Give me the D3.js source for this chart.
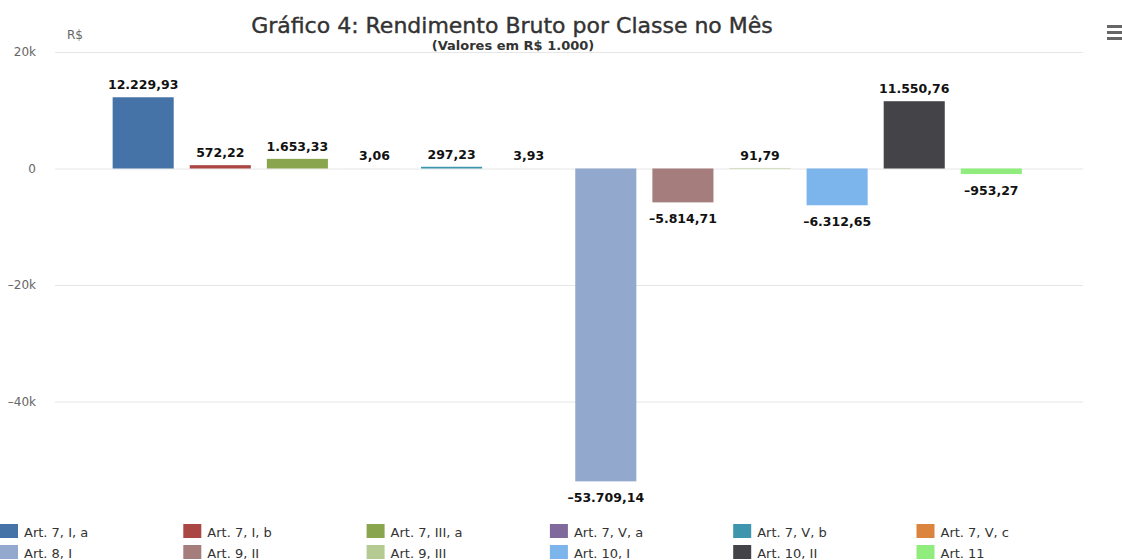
<!DOCTYPE html>
<html>
<head>
<meta charset="utf-8">
<script src="https://cdn.jsdelivr.net/npm/d3@7"></script>
<style>
  body { margin: 0; background: #fff; }
  svg { display: block; }
</style>
</head>
<body>
<div id="chart"></div>
<script>
// Data
var series = ["Art. 7, I, a", "Art. 7, I, b", "Art. 7, III, a", "Art. 7, V, a", "Art. 7, V, b", "Art. 7, V, c",
              "Art. 8, I", "Art. 9, II", "Art. 9, III", "Art. 10, I", "Art. 10, II", "Art. 11"];
var values = [12229.93, 572.22, 1653.33, 3.06, 297.23, 3.93, -53709.14, -5814.71, 91.79, -6312.65, 11550.76, -953.27];
var colors = ["#4572A7", "#AA4643", "#89A54E", "#80699B", "#3D96AE", "#DB843D",
              "#92A8CD", "#A47D7C", "#B5CA92", "#7cb5ec", "#434348", "#90ed7d"];
var yTicks = [20000, 0, -20000, -40000];

// Measurement
var w = 1122, h = 560;
var plot = { left: 55, right: 1083, top: 52, bottom: 518 };

var svg = d3.select("#chart").append("svg")
    .attr("width", w)
    .attr("height", h);

// Scales
var xScale = d3.scaleBand()
    .domain(series)
    .range([plot.left - 2.5, plot.right - 1])
    .paddingInner(0.208)
    .paddingOuter(0.78);

var yScale = d3.scaleLinear()
    .domain([-60000, 20000])
    .range([plot.bottom, plot.top]);

// Grid / y axis
var yAxis = d3.axisLeft(yScale)
    .tickValues(yTicks)
    .tickSizeInner(-(plot.right - plot.left))
    .tickSizeOuter(0)
    .tickPadding(19)
    .tickFormat(function(d) { return d < 0 ? "\u2013" + Math.abs(d / 1000) + "k" : (d === 0 ? "0" : (d / 1000) + "k"); });

var gy = svg.append("g")
    .attr("class", "y axis")
    .attr("transform", "translate(" + plot.left + ",0)")
    .call(yAxis);
gy.select(".domain").remove();
gy.selectAll(".tick line").attr("stroke", "#e6e6e6");
gy.selectAll(".tick text")
    .attr("fill", "#666")
    .attr("font-family", "DejaVu Sans")
    .attr("font-size", 12);

svg.append("text")
    .attr("x", 67).attr("y", 39)
    .attr("font-family", "DejaVu Sans")
    .attr("font-size", 12)
    .attr("fill", "#666")
    .text("R$");

// Bars
svg.selectAll(".bar")
    .data(values)
    .enter()
    .append("rect")
    .attr("class", "bar")
    .attr("x", function(d, i) { return xScale(series[i]); })
    .attr("width", xScale.bandwidth())
    .attr("y", function(d) { return yScale(Math.max(0, d)); })
    .attr("height", function(d) { return Math.abs(yScale(d) - yScale(0)); })
    .attr("fill", function(d, i) { return colors[i]; });

// Labels
var fmt = d3.formatLocale({ decimal: ",", thousands: ".", grouping: [3], currency: ["R$", ""], minus: "\u2013" }).format(",.2f");

svg.selectAll(".label")
    .data(values)
    .enter()
    .append("text")
    .attr("class", "label")
    .attr("x", function(d, i) { return xScale(series[i]) + xScale.bandwidth() / 2; })
    .attr("y", function(d) { return d >= 0 ? yScale(d) - 8 : yScale(d) + 21; })
    .attr("text-anchor", "middle")
    .attr("font-family", "DejaVu Sans")
    .attr("font-weight", "bold")
    .attr("font-size", 12.5)
    .attr("fill", "#111")
    .text(function(d) { return fmt(d); });

// Title
svg.append("text")
    .attr("x", 512).attr("y", 33)
    .attr("text-anchor", "middle")
    .attr("font-family", "DejaVu Sans")
    .attr("font-size", 22)
    .attr("fill", "#333")
    .attr("stroke", "#333")
    .attr("stroke-width", 0.4)
    .text("Gráfico 4: Rendimento Bruto por Classe no Mês");

svg.append("text")
    .attr("x", 513).attr("y", 50)
    .attr("text-anchor", "middle")
    .attr("font-family", "DejaVu Sans")
    .attr("font-weight", "bold")
    .attr("font-size", 13)
    .attr("fill", "#333")
    .text("(Valores em R$ 1.000)");

// Menu icon
[0, 6, 12].forEach(function(o) {
    svg.append("rect")
        .attr("x", 1107).attr("y", 25 + o)
        .attr("width", 15).attr("height", 3)
        .attr("fill", "#666");
});

// Legend
var legend = svg.selectAll(".legend")
    .data(series)
    .enter()
    .append("g")
    .attr("class", "legend")
    .attr("transform", function(d, i) {
        return "translate(" + ((i % 6) * 183.3) + "," + (524 + Math.floor(i / 6) * 21) + ")";
    });

legend.append("rect")
    .attr("x", 0).attr("y", 0)
    .attr("width", 18).attr("height", 14)
    .attr("fill", function(d, i) { return colors[i]; });

legend.append("text")
    .attr("x", 24).attr("y", 13)
    .attr("font-family", "DejaVu Sans")
    .attr("font-size", 13)
    .attr("fill", "#333")
    .text(function(d) { return d; });
</script>
</body>
</html>
